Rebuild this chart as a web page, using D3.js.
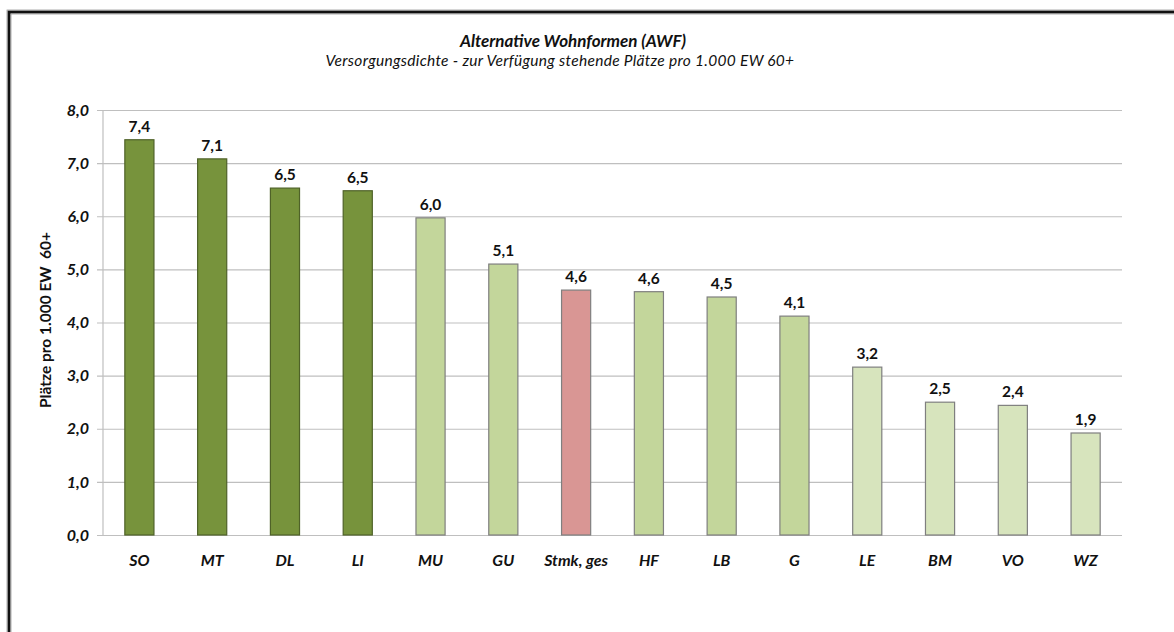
<!DOCTYPE html>
<html><head><meta charset="utf-8">
<script src="https://cdn.jsdelivr.net/npm/d3@7"></script>
<style>body{margin:0;background:#fff}svg{display:block}</style>
</head><body>
<svg id="c" width="1174" height="632"></svg>
<script>
const categories = ["SO","MT","DL","LI","MU","GU","Stmk, ges","HF","LB","G","LE","BM","VO","WZ"];
const values = [7.44,7.08,6.53,6.48,5.97,5.10,4.61,4.58,4.48,4.12,3.16,2.50,2.44,1.92];
const groups = ["dark","dark","dark","dark","mid","mid","total","mid","mid","mid","light","light","light","light"];
const yTicks = [0,1,2,3,4,5,6,7,8];
const title = "Alternative Wohnformen (AWF)";
const subtitle = "Versorgungsdichte - zur Verfügung stehende Plätze pro 1.000 EW 60+";
const yTitle = "Plätze pro 1.000 EW  60+";

const fills = {dark:"#77933C", mid:"#C3D69B", light:"#D7E4BD", total:"#D99694"};
const strokes = {dark:"#4F6228", mid:"#7F7F7F", light:"#7F7F7F", total:"#7F7F7F"};
const font = "Lato, 'Open Sans', sans-serif";

const svg = d3.select("#c");
const pL = 103, pR = 1122, pT = 110, pB = 535;
const x = d3.scaleBand().domain(categories).range([pL, pR]).paddingInner(0.6).paddingOuter(0.3);
const y = d3.scaleLinear().domain([0,8]).range([pB, pT]);

// frame
svg.append("rect").attr("x",9).attr("y",12).attr("width",1300).attr("height",800)
  .attr("fill","none").attr("stroke","#111").attr("stroke-width",3);
svg.append("rect").attr("x",7).attr("y",10).attr("width",1300).attr("height",800)
  .attr("fill","none").attr("stroke","#999").attr("stroke-width",0.8);
svg.append("rect").attr("x",11).attr("y",14).attr("width",1300).attr("height",800)
  .attr("fill","none").attr("stroke","#999").attr("stroke-width",0.8);

// gridlines & ticks
const yAxis = d3.axisLeft(y).tickValues(yTicks).tickSize(-(pR-pL)).tickPadding(14)
  .tickFormat(d => d3.format(".1f")(d).replace(".",","));
const ga = svg.append("g").attr("transform",`translate(${pL},0)`).call(yAxis);
ga.select(".domain").remove();
ga.selectAll(".tick line").attr("stroke","#BFBFBF").attr("stroke-width",1.2).attr("x1",-6);
ga.selectAll(".tick text").attr("font-family",font).attr("font-size",16).attr("font-weight","bold")
  .attr("font-style","italic").attr("fill","#111");
svg.append("line").attr("x1",pL).attr("x2",pL).attr("y1",pT).attr("y2",pB)
  .attr("stroke","#BFBFBF").attr("stroke-width",1.2);

// bars
svg.selectAll("rect.bar").data(categories).join("rect").attr("class","bar")
  .attr("x",d=>x(d)).attr("width",x.bandwidth())
  .attr("y",(d,i)=>y(values[i])).attr("height",(d,i)=>y(0)-y(values[i]))
  .attr("fill",(d,i)=>fills[groups[i]]).attr("stroke",(d,i)=>strokes[groups[i]]).attr("stroke-width",1.2);

// value labels
svg.selectAll("text.val").data(categories).join("text").attr("class","val")
  .attr("x",d=>x(d)+x.bandwidth()/2).attr("y",(d,i)=>y(values[i])-8)
  .attr("text-anchor","middle").attr("font-family",font).attr("font-size",15.5).attr("font-weight","bold")
  .attr("fill","#111").text((d,i)=>d3.format(".1f")(values[i]).replace(".",","));

// x labels
svg.selectAll("text.cat").data(categories).join("text").attr("class","cat")
  .attr("x",d=>x(d)+x.bandwidth()/2).attr("y",566)
  .attr("text-anchor","middle").attr("font-family",font).attr("font-size",16).attr("font-weight","bold")
  .attr("font-style","italic").attr("fill","#111").text(d=>d);

// titles
svg.append("text").attr("x",573).attr("y",47).attr("text-anchor","middle").attr("font-family",font)
  .attr("font-size",17).attr("font-weight","bold").attr("font-style","italic").attr("fill","#111").text(title);
svg.append("text").attr("x",560).attr("y",66).attr("text-anchor","middle").attr("font-family",font)
  .attr("font-size",15.5).attr("letter-spacing",0.3).attr("font-style","italic").attr("fill","#111").text(subtitle);

svg.append("text").attr("transform","translate(51,320) rotate(-90)").attr("text-anchor","middle")
  .style("white-space","pre")
  .attr("font-family",font).attr("font-size",15.5).attr("font-weight","bold").attr("fill","#111").text(yTitle);
</script>
</body></html>
